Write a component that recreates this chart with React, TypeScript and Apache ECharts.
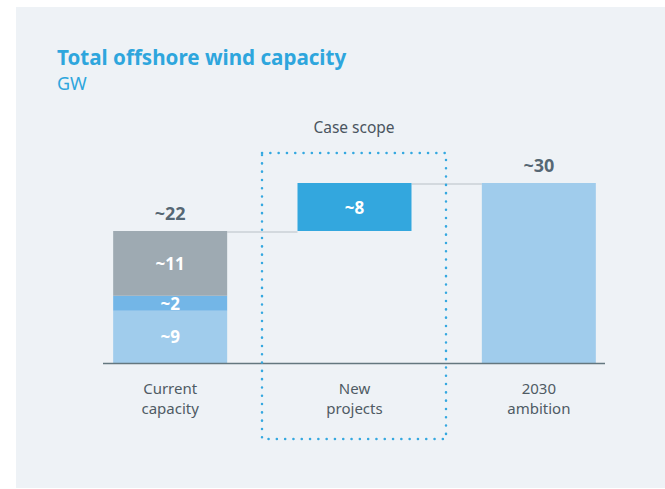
import React, { useEffect, useRef } from "react";
import * as echarts from "echarts";

const categories = ["Current\ncapacity", "New\nprojects", "2030\nambition"];
const baseValues = [0, 22, 0];
const offshoreA = [8.7, "-", "-"];
const offshoreB = [2.5, "-", "-"];
const offshoreC = [10.8, "-", "-"];
const newProjects = ["-", 8, "-"];
const ambition = ["-", "-", 30];
const totals = [22, "-", 30];
const labelA = "~9";
const labelB = "~2";
const labelC = "~11";
const labelNew = "~8";
const totalLabels = ["~22", "", "~30"];
const titleText = "Total offshore wind capacity";
const unitText = "GW";
const scopeText = "Case scope";

const F = '"Noto Sans", sans-serif';

export default function App() {
  const ref = useRef<HTMLDivElement>(null);
  useEffect(() => {
    if (!ref.current) return;
    const chart = echarts.init(ref.current, null, { renderer: "svg" });
    const inside = (txt: string) => ({
      show: true,
      position: "inside",
      formatter: txt,
      color: "#ffffff",
      fontFamily: F,
      fontWeight: "bold",
      fontSize: 17,
    });
    chart.setOption({
      animation: false,
      backgroundColor: "#ffffff",
      grid: { left: 78, right: 34, top: 183, bottom: 126 },
      xAxis: {
        type: "category",
        data: categories,
        axisLine: { show: false },
        axisTick: { show: false },
        axisLabel: {
          color: "#4f5b64",
          fontFamily: F,
          fontSize: 15,
          lineHeight: 20,
          margin: 15,
        },
      },
      yAxis: { type: "value", min: 0, max: 30, show: false },
      series: [
        {
          type: "bar",
          stack: "s",
          barWidth: 114,
          data: baseValues,
          itemStyle: { color: "transparent" },
          silent: true,
        },
        { type: "bar", stack: "s", data: offshoreA, itemStyle: { color: "#a0ccec" }, label: inside(labelA) },
        { type: "bar", stack: "s", data: offshoreB, itemStyle: { color: "#73b6e7" }, label: inside(labelB) },
        { type: "bar", stack: "s", data: offshoreC, itemStyle: { color: "#9eaab2" }, label: inside(labelC) },
        { type: "bar", stack: "s", data: newProjects, itemStyle: { color: "#33a7de" }, label: inside(labelNew) },
        { type: "bar", stack: "s", data: ambition, itemStyle: { color: "#a0ccec" } },
        {
          type: "scatter",
          data: totals,
          symbolSize: 1,
          itemStyle: { color: "transparent" },
          label: {
            show: true,
            position: "top",
            distance: 9,
            formatter: (p: any) => totalLabels[p.dataIndex],
            color: "#2c4150",
            fontFamily: F,
            fontWeight: "bold",
            fontSize: 18,
          },
        },
      ],
    });

    const half = 57;
    const a = chart.convertToPixel({ gridIndex: 0 }, [0, 22]) as number[];
    const b = chart.convertToPixel({ gridIndex: 0 }, [1, 30]) as number[];
    const c = chart.convertToPixel({ gridIndex: 0 }, [2, 30]) as number[];
    const base = chart.convertToPixel({ gridIndex: 0 }, [0, 0]) as number[];
    const conn = "#d3d9de";

    chart.setOption({
      graphic: [
        {
          type: "rect",
          z: -10,
          shape: { x: 16, y: 7, width: 649, height: 481 },
          style: { fill: "#eef2f6" },
          silent: true,
        },
        {
          type: "text",
          style: {
            text: titleText,
            x: 57,
            y: 57,
            font: `bold 20.6px ${F}`,
            fill: "#2ea6dd",
            textVerticalAlign: "middle",
          },
        },
        {
          type: "text",
          style: {
            text: unitText,
            x: 57,
            y: 83,
            font: `18px ${F}`,
            fill: "#2ea6dd",
            textVerticalAlign: "middle",
          },
        },
        {
          type: "text",
          style: {
            text: scopeText,
            x: 354,
            y: 127,
            font: `15.5px ${F}`,
            fill: "#4a5560",
            textAlign: "center",
            textVerticalAlign: "middle",
          },
        },
        {
          type: "line",
          z: 1,
          shape: { x1: a[0] + half, y1: a[1] + 1, x2: b[0] - half, y2: a[1] + 1 },
          style: { stroke: conn, lineWidth: 2 },
        },
        {
          type: "line",
          z: 1,
          shape: { x1: b[0] + half, y1: b[1] + 1, x2: c[0] - half, y2: b[1] + 1 },
          style: { stroke: conn, lineWidth: 2 },
        },
        {
          type: "line",
          z: 5,
          shape: { x1: 103, y1: base[1] + 0.5, x2: 605, y2: base[1] + 0.5 },
          style: { stroke: "#64777f", lineWidth: 1.5 },
        },
        {
          type: "rect",
          z: 6,
          shape: { x: 262, y: 153, width: 184, height: 286 },
          style: {
            fill: "none",
            stroke: "#34a8e0",
            lineWidth: 2.5,
            lineDash: [0.1, 8.2],
            lineCap: "round",
          },
        },
      ],
    });

    return () => chart.dispose();
  }, []);
  return (
    <div
      ref={ref}
      style={{ position: "absolute", left: 0, top: 0, width: 665, height: 489 }}
    />
  );
}
